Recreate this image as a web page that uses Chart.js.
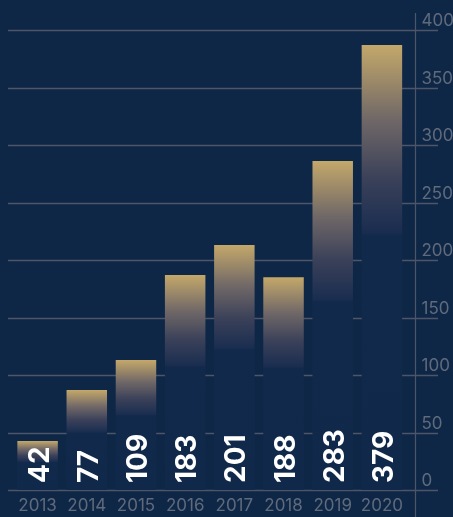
<!DOCTYPE html>
<html>
<head>
<meta charset="utf-8">
<script src="https://cdn.jsdelivr.net/npm/chart.js@4/dist/chart.umd.min.js"></script>
<style>
  html, body { margin: 0; padding: 0; background: #0f2747; }
  #wrap { width: 453px; height: 517px; position: relative; }
</style>
</head>
<body>
<div id="wrap"><canvas id="chart"></canvas></div>
<script>
// ── Data ──────────────────────────────────────────────────────────
const years      = ["2013", "2014", "2015", "2016", "2017", "2018", "2019", "2020"];
// bar heights as drawn in the picture
const barValues  = [42.6, 87, 113, 187, 213, 185, 286, 387];
// printed value labels
const labelTexts = ["42", "77", "109", "183", "201", "188", "283", "379"];
const yTicks     = [0, 50, 100, 150, 200, 250, 300, 350, 400];

const BG    = "#0f2747";
const GOLD  = "#c4a86a";
const GRID  = "#4c5667";
const LABEL = "#5f6a7b";

// gold at the top of each bar fading into navy
function barGradient(ctx) {
  const chart = ctx.chart;
  if (!chart.chartArea) return GOLD;
  const y = chart.scales.y;
  const top  = y.getPixelForValue(ctx.raw);
  const base = y.getPixelForValue(0);
  const g = chart.ctx.createLinearGradient(0, top, 0, base);
  g.addColorStop(0,    "#c4a86a");
  g.addColorStop(0.17, "#6f6767");
  g.addColorStop(0.30, "#3b4159");
  g.addColorStop(0.42, "#1a2d50");
  g.addColorStop(0.43, "#11294b");
  g.addColorStop(1,    "#10284a");
  return g;
}

// background, grid lines and axis line drawn under the bars
const backdrop = {
  id: "backdrop",
  beforeDatasetsDraw(chart) {
    const { ctx, scales } = chart;
    ctx.save();
    ctx.fillStyle = BG;
    ctx.globalCompositeOperation = "destination-over";
    ctx.fillRect(0, 0, chart.width, chart.height);
    ctx.globalCompositeOperation = "source-over";
    ctx.strokeStyle = GRID;
    ctx.lineWidth = 1.5;
    yTicks.forEach(v => {
      const py = Math.round(scales.y.getPixelForValue(v)) + 0.5;
      ctx.beginPath();
      ctx.moveTo(8, py);
      ctx.lineTo(438, py);
      ctx.stroke();
    });
    ctx.lineWidth = 1.2;
    ctx.beginPath();
    ctx.moveTo(415.5, 13);
    ctx.lineTo(415.5, chart.height);
    ctx.stroke();
    ctx.restore();
  }
};

// rotated value labels at the foot of each bar
const valueLabels = {
  id: "valueLabels",
  afterDatasetsDraw(chart) {
    const { ctx } = chart;
    const meta = chart.getDatasetMeta(0);
    ctx.save();
    ctx.fillStyle = "#ffffff";
    ctx.font = "bold 28px Inter, 'Noto Sans', sans-serif";
    ctx.textAlign = "left";
    ctx.textBaseline = "alphabetic";
    meta.data.forEach((bar, i) => {
      ctx.save();
      ctx.translate(bar.x + 11, bar.base - 7);
      ctx.rotate(-Math.PI / 2);
      ctx.fillText(labelTexts[i], 0, 0);
      ctx.restore();
    });
    ctx.restore();
  }
};

new Chart(document.getElementById("chart"), {
  type: "bar",
  data: {
    labels: years,
    datasets: [{
      data: barValues,
      backgroundColor: barGradient,
      borderWidth: 0,
      categoryPercentage: 1,
      barPercentage: 0.823
    }]
  },
  options: {
    responsive: true,
    maintainAspectRatio: false,
    animation: false,
    devicePixelRatio: 1,
    layout: { padding: { left: 13, top: 30, right: 0, bottom: 0 } },
    plugins: { legend: { display: false }, tooltip: { enabled: false } },
    scales: {
      x: {
        grid: { display: false, drawTicks: false },
        border: { display: false },
        afterFit: scale => { scale.height = 27; },
        ticks: {
          color: LABEL,
          padding: 6,
          maxRotation: 0,
          font: { family: "Inter", size: 17 }
        }
      },
      y: {
        position: "right",
        min: 0,
        max: 400,
        grid: { display: false, drawTicks: false },
        border: { display: false },
        afterBuildTicks: scale => { scale.ticks = yTicks.map(v => ({ value: v })); },
        afterFit: scale => { scale.width = 46.5; },
        ticks: {
          color: LABEL,
          padding: 15,
          labelOffset: -9,
          font: { family: "Inter", size: 17 }
        }
      }
    }
  },
  plugins: [backdrop, valueLabels]
});
</script>
</body>
</html>
